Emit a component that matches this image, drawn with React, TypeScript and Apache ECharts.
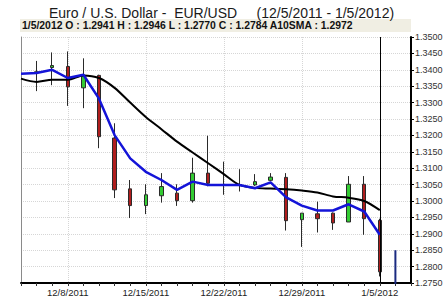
import React, { useEffect, useRef } from "react";
import * as echarts from "echarts";

const categories = [
  "12/5/2011", "12/6/2011", "12/7/2011", "12/8/2011", "12/9/2011",
  "12/12/2011", "12/13/2011", "12/14/2011", "12/15/2011", "12/16/2011",
  "12/19/2011", "12/20/2011", "12/21/2011", "12/22/2011", "12/23/2011",
  "12/26/2011", "12/27/2011", "12/28/2011", "12/29/2011", "12/30/2011",
  "1/2/2012", "1/3/2012", "1/4/2012", "1/5/2012", "1/6/2012", "1/9/2012",
];

// [open, close, low, high]
const ohlc: (number[] | string)[] = [
  "-",
  [1.3392, 1.3394, 1.3335, 1.3427],
  [1.3407, 1.3413, 1.3353, 1.3453],
  [1.3410, 1.3348, 1.3290, 1.3456],
  [1.3345, 1.3383, 1.3283, 1.3435],
  [1.3383, 1.3196, 1.3161, 1.3385],
  [1.3192, 1.3034, 1.3009, 1.3237],
  [1.3037, 1.2986, 1.2948, 1.3064],
  [1.2986, 1.3019, 1.2960, 1.3051],
  [1.3016, 1.3044, 1.2995, 1.3085],
  [1.3024, 1.3001, 1.2985, 1.3051],
  [1.3001, 1.3085, 1.2995, 1.3132],
  [1.3085, 1.3054, 1.3045, 1.3199],
  [1.3048, 1.3050, 1.3019, 1.3120],
  [1.3050, 1.3048, 1.3029, 1.3097],
  [1.3049, 1.3059, 1.3046, 1.3082],
  [1.3063, 1.3073, 1.3060, 1.3085],
  [1.3072, 1.2940, 1.2910, 1.3085],
  [1.2943, 1.2963, 1.2860, 1.2963],
  [1.2961, 1.2946, 1.2904, 1.2998],
  [1.2963, 1.2933, 1.2912, 1.2965],
  [1.2936, 1.3051, 1.2936, 1.3076],
  [1.3051, 1.2946, 1.2897, 1.3076],
  [1.2941, 1.2784, 1.2770, 1.2946],
  "-",
  "-",
];

// 10-day simple moving average (black)
const sma10: (number | string)[] = [
  1.3373, 1.3363, 1.3370, 1.3370, 1.3383, 1.3375, 1.3345, 1.3300, 1.3256, 1.3219,
  1.3181, 1.3148, 1.3115, 1.3082, 1.3049, 1.3040, 1.3038, 1.3036, 1.3032, 1.3026,
  1.3014, 1.3010, 1.3000, 1.2972, "-", "-",
];

// short moving average (blue)
const maShort: (number | string)[] = [
  1.3388, 1.3390, 1.3400, 1.3375, 1.3385, 1.3312, 1.3201, 1.3130, 1.3089, 1.3064,
  1.3034, 1.3059, 1.3049, 1.3049, 1.3049, 1.3039, 1.3057, 1.3011, 1.2986, 1.2971,
  1.2971, 1.2990, 1.2968, 1.2897, "-", "-",
];

// partial next-day bar (navy): [categoryIndex, value]
const nextBar = [
  [24, 1.285],
  [24, 1.27],
];

const xTickLabels = ["12/8/2011", "12/15/2011", "12/22/2011", "12/29/2011", "1/5/2012"];
const cursorDate = "1/5/2012";
const yMin = 1.275;
const yMax = 1.35;
const yStep = 0.005;

const titleText = "Euro / U.S. Dollar -  EUR/USD     (12/5/2011 - 1/5/2012)";

export default function App() {
  const ref = useRef<HTMLDivElement>(null);

  useEffect(() => {
    if (!ref.current) return;
    const chart = echarts.init(ref.current, null, { renderer: "svg" });
    const ci = categories.indexOf(cursorDate);
    const c = ohlc[ci] as number[];
    const headerText =
      `${cursorDate} O : ${c[0].toFixed(4)} H : ${c[3].toFixed(4)} L : ${c[2].toFixed(4)} C : ${c[1].toFixed(4)} A10SMA : ${(sma10[ci] as number).toFixed(4)}`;
    const showIdx = (i: number) => xTickLabels.includes(categories[i]);
    const font = "'Liberation Sans', Arial, sans-serif";

    chart.setOption({
      animation: false,
      backgroundColor: "#ffffff",
      title: {
        text: titleText,
        left: "center",
        top: 1,
        textStyle: { fontFamily: font, fontSize: 14, fontWeight: "normal", color: "#1a1a1a" },
      },
      graphic: [
        {
          type: "rect",
          shape: { x: 20, y: 19, width: 391, height: 13 },
          style: { fill: "#f0eee3" },
          z: 0,
        },
        {
          type: "text",
          x: 22,
          y: 25.5,
          style: {
            text: headerText,
            fontFamily: font,
            fontSize: 10.4,
            fontWeight: "bold",
            fill: "#111",
            verticalAlign: "middle",
          },
          z: 1,
        },
      ],
      grid: { left: 21, right: 32, top: 37, bottom: 15, outerBoundsMode: "none", containLabel: false },
      xAxis: {
        type: "category",
        data: categories,
        boundaryGap: false,
        axisLine: { show: true, lineStyle: { color: "#000", width: 2 } },
        axisTick: { show: true, interval: 0, length: 3, lineStyle: { color: "#333" } },
        axisLabel: {
          interval: (i: number) => showIdx(i),
          fontFamily: font,
          fontSize: 9.5,
          color: "#222",
          margin: 4,
        },
        splitLine: {
          show: true,
          interval: (i: number) => showIdx(i),
          lineStyle: { color: "#d6d6d6", type: "dotted", width: 1 },
        },
      },
      yAxis: [
        {
          type: "value",
          position: "right",
          min: yMin,
          max: yMax,
          interval: yStep,
          axisLine: { show: true, lineStyle: { color: "#000", width: 2 } },
          axisTick: { show: true, length: 3, lineStyle: { color: "#000" } },
          axisLabel: {
            fontFamily: font,
            fontSize: 9,
            color: "#333",
            margin: 4,
            formatter: (v: number) => v.toFixed(4),
          },
          splitLine: { show: true, lineStyle: { color: "#d6d6d6", type: "dotted", width: 1 } },
        },
        {
          type: "value",
          position: "left",
          min: yMin,
          max: yMax,
          interval: yStep,
          axisLine: { show: true, lineStyle: { color: "#8a8a8a", width: 1 } },
          axisTick: { show: false },
          axisLabel: { show: false },
          splitLine: { show: false },
        },
      ],
      series: [
        {
          type: "candlestick",
          data: ohlc,
          barWidth: 4,
          z: 2,
          itemStyle: {
            color: "#33cc33",
            color0: "#b01e1e",
            borderColor: "#2a2a2a",
            borderColor0: "#2a2a2a",
            borderWidth: 1,
          },
          markLine: {
            silent: true,
            symbol: ["none", "none"],
            label: { show: false },
            lineStyle: { color: "#000", width: 1, type: "solid" },
            data: [{ xAxis: cursorDate }],
          },
        },
        {
          type: "line",
          data: sma10,
          smooth: 0.3,
          showSymbol: false,
          symbol: "none",
          z: 3,
          lineStyle: { color: "#000000", width: 2 },
        },
        {
          type: "line",
          data: maShort,
          showSymbol: false,
          symbol: "none",
          z: 4,
          lineStyle: { color: "#1414d8", width: 2.5 },
        },
        {
          type: "line",
          data: nextBar,
          showSymbol: false,
          symbol: "none",
          z: 4,
          lineStyle: { color: "#1a2a80", width: 2 },
        },
      ],
    });
    return () => chart.dispose();
  }, []);

  return <div ref={ref} style={{ width: 443, height: 298, position: "absolute", left: 0, top: 0 }} />;
}
